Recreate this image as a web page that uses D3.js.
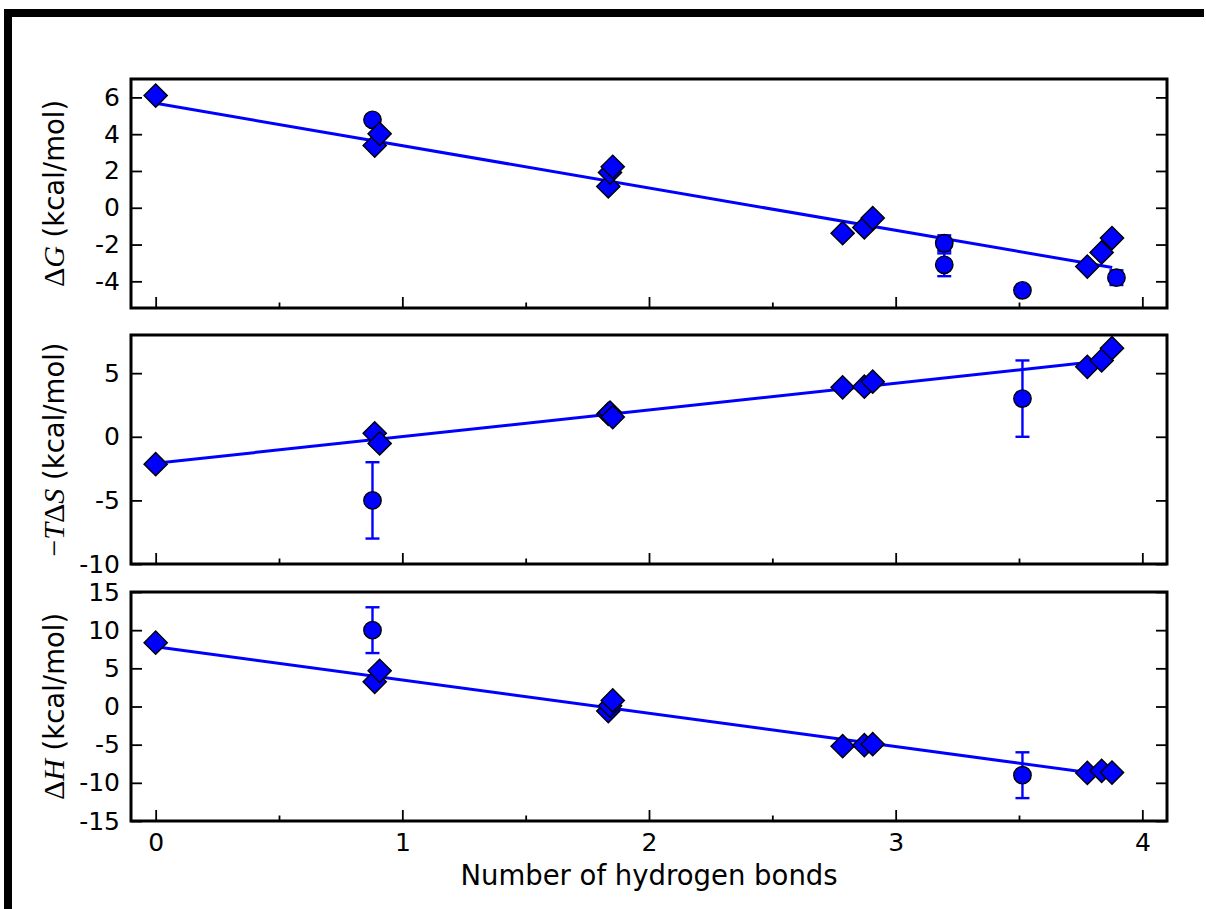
<!DOCTYPE html>
<html>
<head>
<meta charset="utf-8">
<script src="https://cdn.jsdelivr.net/npm/d3@7"></script>
<style>
  body { margin: 0; background: #fff; }
  svg text { font-family: "DejaVu Sans", sans-serif; }
</style>
</head>
<body>
<svg id="chart" width="1206" height="909"></svg>
<script>
// Thermodynamics vs number of hydrogen bonds (three stacked panels)

// x axis
const X_DOMAIN = [-0.1, 4.1];
const X_MAJOR = [0, 1, 2, 3, 4];
const X_MINOR = [0.5, 1.5, 2.5, 3.5];

// diamonds (series used for the fit)
const diamondX = [0, 0.888, 0.908, 1.835, 1.842, 1.853, 2.785, 2.873, 2.907, 3.777, 3.835, 3.877];
const diamondG = [6.1, 3.38, 4.02, 1.16, 1.92, 2.23, -1.38, -1.07, -0.56, -3.2, -2.43, -1.65];
const diamondTS = [-2.15, 0.27, -0.52, 1.8, 1.9, 1.55, 3.89, 3.94, 4.33, 5.5, 6.0, 6.96];
const diamondH = [8.36, 3.24, 4.68, -0.6, 0.1, 0.8, -5.2, -5.07, -4.93, -8.7, -8.43, -8.65];

// circles with error bars
const circleXG = [0.879, 3.197, 3.197, 3.514, 3.895];
const circleG = [4.78, -1.93, -3.1, -4.49, -3.8];
const circleErrG = [0, 0.43, 0.62, 0, 0.4];
const circleX = [0.879, 3.514];
const circleTS = [-5, 3];
const circleErrTS = [3, 3];
const circleH = [10, -9];
const circleErrH = [3, 3];

// fitted lines (end points)
const fitX = [0, 3.878];
const fitG = [5.68, -3.25];
const fitTS = [-2.08, 6.05];
const fitH = [7.84, -9.08];

// y axes
const domainG = [-5.45, 7];
const ticksG = [-4, -2, 0, 2, 4, 6];
const domainTS = [-10, 8];
const ticksTS = [-10, -5, 0, 5];
const domainH = [-15, 15];
const ticksH = [-15, -10, -5, 0, 5, 10, 15];

const BLUE = "#0000ff";

const panels = [
  { top: 79, domain: domainG, ticks: ticksG, dY: diamondG, cX: circleXG, cY: circleG, cE: circleErrG, fit: fitG,
    label: [["Δ", "math"], ["G", "mathit"], [" (kcal/mol)", "sans"]] },
  { top: 335, domain: domainTS, ticks: ticksTS, dY: diamondTS, cX: circleX, cY: circleTS, cE: circleErrTS, fit: fitTS,
    label: [["−", "math"], ["T", "mathit"], ["Δ", "math"], ["S", "mathit"], [" (kcal/mol)", "sans"]] },
  { top: 592, domain: domainH, ticks: ticksH, dY: diamondH, cX: circleX, cY: circleH, cE: circleErrH, fit: fitH,
    label: [["Δ", "math"], ["H", "mathit"], [" (kcal/mol)", "sans"]] },
];

const svg = d3.select("#chart");
const W = +svg.attr("width");
const H = +svg.attr("height");
const plotL = 131, plotR = 1167, panelH = 229;
const TICK_FONT = 25, LABEL_FONT = 27.5;

svg.append("rect").attr("width", W).attr("height", H).attr("fill", "#fff");
// thick black edge at top and left of the original figure
svg.append("rect").attr("x", 4).attr("y", 9).attr("width", 1200).attr("height", 8).attr("fill", "#000");
svg.append("rect").attr("x", 4).attr("y", 9).attr("width", 8).attr("height", H - 9).attr("fill", "#000");

const x = d3.scaleLinear().domain(X_DOMAIN).range([plotL, plotR]);

panels.forEach((p, i) => {
  const bottom = p.top + panelH;
  const y = d3.scaleLinear().domain(p.domain).range([bottom, p.top]);
  const g = svg.append("g");
  const isLast = i === panels.length - 1;

  // fit line
  const line = d3.line().x((d) => x(d[0])).y((d) => y(d[1]));
  g.append("path")
    .datum(d3.zip(fitX, p.fit))
    .attr("d", line)
    .attr("fill", "none")
    .attr("stroke", BLUE)
    .attr("stroke-width", 3);

  // error bars
  const circles = d3.zip(p.cX, p.cY, p.cE);
  const eb = g.append("g").attr("stroke", BLUE).attr("stroke-width", 2.4);
  circles.filter((d) => d[2] > 0).forEach((d) => {
    const cx = x(d[0]);
    eb.append("line").attr("x1", cx).attr("x2", cx).attr("y1", y(d[1] - d[2])).attr("y2", y(d[1] + d[2]));
    [d[1] - d[2], d[1] + d[2]].forEach((v) => {
      eb.append("line").attr("x1", cx - 7).attr("x2", cx + 7).attr("y1", y(v)).attr("y2", y(v));
    });
  });

  // circles
  g.append("g")
    .selectAll("circle")
    .data(circles)
    .join("circle")
    .attr("cx", (d) => x(d[0]))
    .attr("cy", (d) => y(d[1]))
    .attr("r", 8.7)
    .attr("fill", BLUE)
    .attr("stroke", "#000")
    .attr("stroke-width", 1.4);

  // diamonds
  const diamond = d3.symbol(d3.symbolSquare, 270);
  g.append("g")
    .selectAll("path")
    .data(d3.zip(diamondX, p.dY))
    .join("path")
    .attr("d", diamond)
    .attr("transform", (d) => `translate(${x(d[0])},${y(d[1])}) rotate(45)`)
    .attr("fill", BLUE)
    .attr("stroke", "#000")
    .attr("stroke-width", 1.4);

  // axes, ticks pointing inward
  const styleAxis = (a) => {
    a.select(".domain").remove();
    a.attr("font-size", TICK_FONT).attr("font-family", "DejaVu Sans");
    a.selectAll(".tick line").attr("stroke-width", 1.8);
    a.selectAll(".tick text").attr("fill", "#000");
  };
  g.append("g")
    .attr("transform", `translate(${plotL},0)`)
    .call(d3.axisLeft(y).tickValues(p.ticks).tickFormat((d) => String(d))
      .tickSizeInner(-11).tickSizeOuter(0).tickPadding(11))
    .call(styleAxis);
  g.append("g")
    .attr("transform", `translate(${plotR},0)`)
    .call(d3.axisRight(y).tickValues(p.ticks).tickFormat(() => "")
      .tickSizeInner(-11).tickSizeOuter(0))
    .call(styleAxis);
  g.append("g")
    .attr("transform", `translate(0,${bottom})`)
    .call(d3.axisBottom(x).tickValues(X_MAJOR).tickFormat((d) => (isLast ? String(d) : ""))
      .tickSizeInner(-11).tickSizeOuter(0).tickPadding(12))
    .call(styleAxis);
  g.append("g")
    .attr("transform", `translate(0,${bottom})`)
    .call(d3.axisBottom(x).tickValues(X_MINOR).tickFormat(() => "")
      .tickSizeInner(-5.5).tickSizeOuter(0))
    .call(styleAxis);

  // frame
  g.append("rect")
    .attr("x", plotL).attr("y", p.top)
    .attr("width", plotR - plotL).attr("height", panelH)
    .attr("fill", "none").attr("stroke", "#000").attr("stroke-width", 3);

  // y label
  const lab = g.append("text")
    .attr("transform", `translate(64,${p.top + panelH / 2}) rotate(-90)`)
    .attr("text-anchor", "middle")
    .attr("font-size", LABEL_FONT);
  p.label.forEach(([t, kind]) => {
    const ts = lab.append("tspan").text(t);
    if (kind !== "sans") ts.attr("font-family", "Liberation Serif, DejaVu Serif, serif").attr("font-size", 30);
    if (kind === "mathit") ts.attr("font-style", "italic");
  });
});

svg.append("text")
  .attr("x", (plotL + plotR) / 2)
  .attr("y", 885)
  .attr("text-anchor", "middle")
  .attr("font-size", LABEL_FONT)
  .text("Number of hydrogen bonds");
</script>
</body>
</html>
